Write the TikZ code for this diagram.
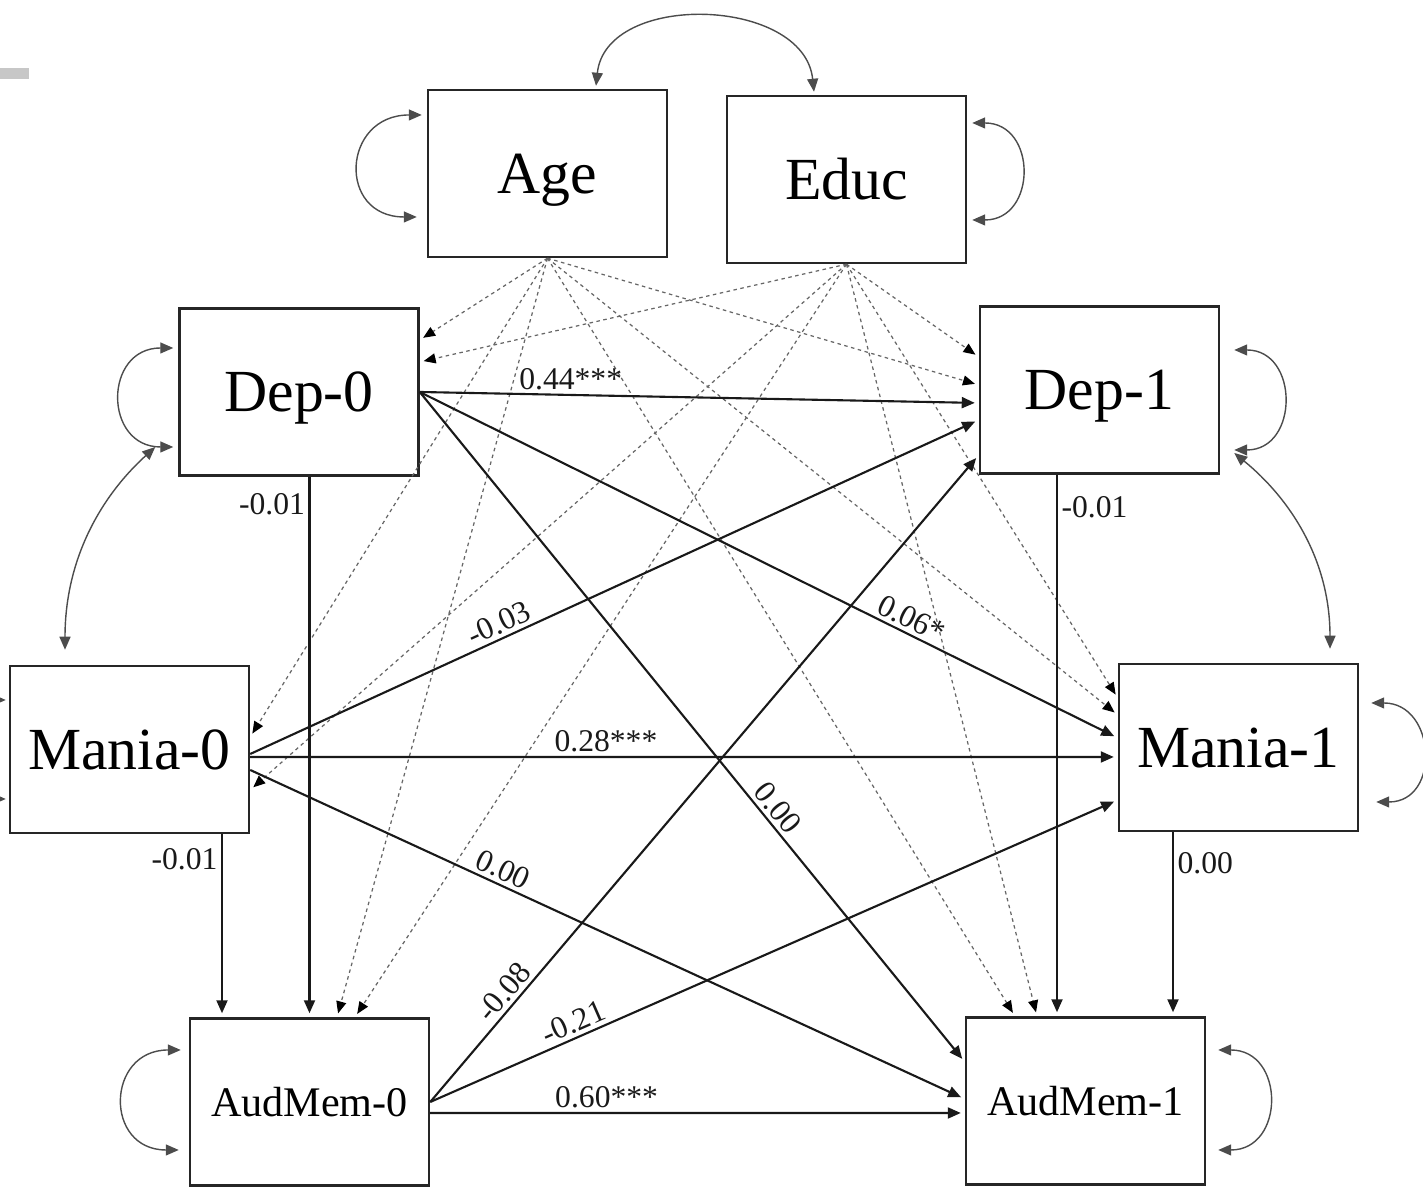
\documentclass[tikz,border=0pt]{standalone}
\usepackage{fontspec}
\setmainfont{Liberation Serif}
\usetikzlibrary{arrows.meta}

\begin{document}
\begin{tikzpicture}[
  obs/.style={draw=black!85, line width=0.7pt, minimum width=2.39cm, minimum height=1.67cm,
    inner sep=0pt, text height=0.4cm, text depth=0pt, font=\fontsize{17}{20}\selectfont},
  obssmall/.style={obs, text height=0.3cm, font=\fontsize{12}{14}\selectfont},
  regr/.style={-{Triangle[length=1.3mm,width=1.1mm]}, line width=0.6pt, black!90, shorten >=0.4mm},
  ctrl/.style={-{Triangle[length=1.2mm,width=1mm,color=black]}, black!60, line width=0.35pt,
    dash pattern=on 1pt off 1pt, shorten >=0.4mm},
  covar/.style={{Triangle[length=1.3mm,width=1.1mm]}-{Triangle[length=1.3mm,width=1.1mm]},
    black!70, line width=0.4pt},
  lbl/.style={font=\fontsize{9}{10}\selectfont, inner sep=1pt}
]
  \useasboundingbox (0,0) rectangle (14.23,11.90);
  \clip (0,0) rectangle (14.23,11.90);
  \fill[black!22] (0,11.22) rectangle (0.29,11.11);

  % observed variables
  \node[obs] (age)  at (5.475,10.165) {Age};
  \node[obs] (educ) at (8.465,10.105) {Educ};
  \node[obs] (dep0) at (2.99,7.98)    {Dep-0};
  \node[obs] (dep1) at (10.995,8.00)  {Dep-1};
  \node[obs] (man0) at (1.295,4.405)  {Mania-0};
  \node[obs] (man1) at (12.385,4.425) {Mania-1};
  \node[obssmall] (aud0) at (3.095,0.88)  {AudMem-0};
  \node[obssmall] (aud1) at (10.855,0.89) {AudMem-1};

  % covariates
  \draw[ctrl] (age.south) -- ([yshift=5.2mm]dep0.east);
  \draw[ctrl] (age.south) -- ([yshift=0.5mm]dep1.west);
  \draw[ctrl] (age.south) -- ([yshift=1.25mm]man0.east);
  \draw[ctrl] (age.south) -- ([yshift=3.25mm]man1.west);
  \draw[ctrl] (age.south) -- ([xshift=2.75mm]aud0.north);
  \draw[ctrl] (age.south) -- ([xshift=-7.05mm]aud1.north);
  \draw[ctrl] (educ.south) -- ([yshift=3mm]dep0.east);
  \draw[ctrl] (educ.south) -- ([yshift=3.3mm]dep1.west);
  \draw[ctrl] (educ.south) -- ([yshift=-4.05mm]man0.east);
  \draw[ctrl] (educ.south) -- ([yshift=4.95mm]man1.west);
  \draw[ctrl] (educ.south) -- ([xshift=4.55mm]aud0.north);
  \draw[ctrl] (educ.south) -- ([xshift=-4.85mm]aud1.north);

  % paths
  \draw[regr] (dep0.east) -- node[lbl,pos=0.27,above] {0.44***} ([yshift=-1.3mm]dep1.west);
  \draw[regr] (dep0.east) -- node[lbl,pos=0.695,sloped,above] {0.06*} ([yshift=0.95mm]man1.west);
  \draw[regr] (dep0.east) -- node[lbl,pos=0.635,sloped,above] {0.00} ([yshift=3.9mm]aud1.west);
  \draw[regr] ([yshift=-0.45mm]man0.east) -- node[lbl,pos=0.35,sloped,above] {-0.03} ([yshift=-3mm]dep1.west);
  \draw[regr] ([yshift=-0.75mm]man0.east) -- node[lbl,pos=0.41,above] {0.28***} ([yshift=-0.95mm]man1.west);
  \draw[regr] ([yshift=-2.05mm]man0.east) -- node[lbl,pos=0.345,sloped,above] {0.00} ([yshift=0.2mm]aud1.west);
  \draw[regr] (aud0.east) -- node[lbl,pos=0.155,sloped,above] {-0.08} ([yshift=-6.5mm]dep1.west);
  \draw[regr] (aud0.east) -- node[lbl,pos=0.217,sloped,above] {-0.21} ([yshift=-5.25mm]man1.west);
  \draw[regr] ([yshift=-1.1mm]aud0.east) -- node[lbl,pos=0.33,above] {0.60***} ([yshift=-1.2mm]aud1.west);

  \coordinate (m0b) at ([xshift=9.25mm]man0.south);
  \coordinate (d1b) at ([xshift=-4.25mm]dep1.south);
  \coordinate (m1b) at ([xshift=-6.55mm]man1.south);
  \draw[regr] (aud0.north |- dep0.south) -- node[lbl,pos=0.05,left] {-0.01} (aud0.north);
  \draw[regr] (m0b) -- node[lbl,pos=0.135,left] {-0.01} (m0b |- aud0.north);
  \draw[regr] (d1b) -- node[lbl,pos=0.06,right] {-0.01} (d1b |- aud1.north);
  \draw[regr] (m1b) -- node[lbl,pos=0.167,right] {0.00} (m1b |- aud1.north);

  % variances and covariances
  \draw[covar] ([xshift=-0.5mm,yshift=5.85mm]age.west) .. controls +(-0.8,0) and +(-0.8,0) .. ([xshift=-1mm,yshift=-4.35mm]age.west);
  \draw[covar] ([xshift=4.85mm,yshift=0.3mm]age.north) .. controls +(0.1,0.95) and +(-0.1,0.95) .. ([xshift=-3.25mm,yshift=0.3mm]educ.north);
  \draw[covar] ([xshift=0.5mm,yshift=5.65mm]educ.east) .. controls +(0.65,0) and +(0.65,0) .. ([xshift=0.5mm,yshift=-4.05mm]educ.east);
  \draw[covar] ([xshift=-0.5mm,yshift=4.4mm]dep0.west) .. controls +(-0.7,0) and +(-0.7,0) .. ([xshift=-0.5mm,yshift=-5.5mm]dep0.west);
  \draw[covar] ([xshift=-2.3mm,yshift=-5.5mm]dep0.west) .. controls +(-0.55,-0.5) and +(0,0.9) .. ([xshift=-6.45mm,yshift=1.5mm]man0.north);
  \draw[covar] ([xshift=-0.3mm,yshift=4.95mm]man0.west) .. controls +(-0.7,0) and +(-0.7,0) .. ([xshift=-0.3mm,yshift=-4.95mm]man0.west);
  \draw[covar] ([xshift=1.4mm,yshift=4mm]dep1.east) .. controls +(0.65,0) and +(0.65,0) .. ([xshift=1.4mm,yshift=-6mm]dep1.east);
  \draw[covar] ([xshift=1.4mm,yshift=-6.3mm]dep1.east) .. controls +(0.55,-0.45) and +(0,0.9) .. ([xshift=9.15mm,yshift=1.4mm]man1.north);
  \draw[covar] ([xshift=1.2mm,yshift=4.45mm]man1.east) .. controls +(0.65,0) and +(0.65,0) .. ([xshift=1.7mm,yshift=-5.45mm]man1.east);
  \draw[covar] ([xshift=-0.8mm,yshift=5.2mm]aud0.west) .. controls +(-0.75,0) and +(-0.75,0) .. ([xshift=-1mm,yshift=-4.8mm]aud0.west);
  \draw[covar] ([xshift=1.2mm,yshift=5.1mm]aud1.east) .. controls +(0.67,0) and +(0.67,0) .. ([xshift=1.2mm,yshift=-4.9mm]aud1.east);
\end{tikzpicture}
\end{document}
